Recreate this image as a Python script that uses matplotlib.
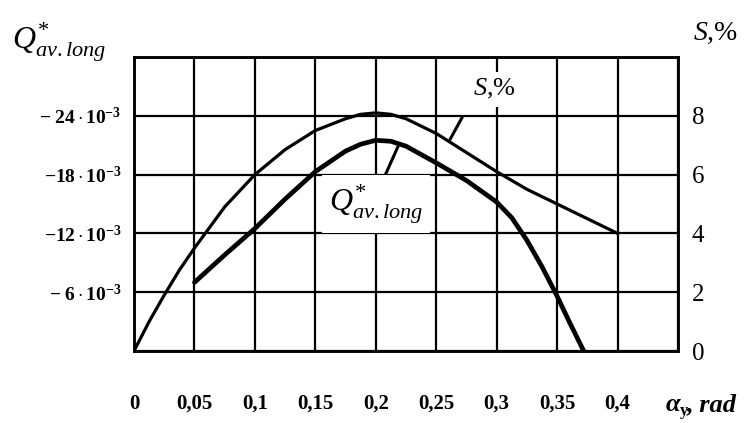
import matplotlib.pyplot as plt
import numpy as np

plt.rcParams['font.family'] = ['Liberation Serif', 'DejaVu Serif']
plt.rcParams['mathtext.fontset'] = 'custom'
plt.rcParams['mathtext.rm'] = 'Liberation Serif'
plt.rcParams['mathtext.it'] = 'Liberation Serif:italic'
plt.rcParams['mathtext.bf'] = 'Liberation Serif:bold'

# angle alpha_y, rad
a_s = [0, 0.0125, 0.025, 0.0375, 0.05, 0.075, 0.1, 0.125, 0.15, 0.175, 0.1875,
       0.2, 0.2125, 0.225, 0.25, 0.275, 0.3, 0.325, 0.35, 0.375, 0.4]
s_pct = [0, 1.0, 1.9, 2.75, 3.5, 4.9, 6.0, 6.85, 7.5, 7.9, 8.05,
         8.1, 8.05, 7.9, 7.4, 6.75, 6.1, 5.5, 5.0, 4.5, 4.0]

a_q = [0.05, 0.075, 0.1, 0.125, 0.15, 0.175, 0.1875, 0.2, 0.2125, 0.225,
       0.25, 0.275, 0.3, 0.3125, 0.325, 0.3375, 0.35, 0.36, 0.372]
q_avlong = [-7.0e-3, -9.8e-3, -12.5e-3, -15.5e-3, -18.3e-3, -20.4e-3, -21.1e-3,
            -21.5e-3, -21.4e-3, -20.9e-3, -19.2e-3, -17.4e-3, -15.2e-3,
            -13.6e-3, -11.3e-3, -8.6e-3, -5.6e-3, -3.0e-3, 0.0]

x_ticks = [0, 0.05, 0.1, 0.15, 0.2, 0.25, 0.3, 0.35, 0.4, 0.45]
x_labels = ['0', '0,05', '0,1', '0,15', '0,2', '0,25', '0,3', '0,35', '0,4', '']
q_ticks = [0, -6e-3, -12e-3, -18e-3, -24e-3, -30e-3]
q_labels = ['', r'$\mathbf{-\ 6\cdot10^{-3}}$', r'$\mathbf{-12\cdot10^{-3}}$',
            r'$\mathbf{-18\cdot10^{-3}}$', r'$\mathbf{-\ 24\cdot10^{-3}}$', '']
s_ticks = [0, 2, 4, 6, 8, 10]
s_labels = ['0', '2', '4', '6', '8', '']

Q_LABEL = r'$Q^{*}_{av.long}$'

fig = plt.figure(figsize=(7.5, 4.23), dpi=100)
ax = fig.add_axes([134/750, 72/423, 544/750, 294/423])
ax2 = ax.twinx()

ax.set_xlim(0, 0.45)
ax.set_ylim(0, -0.030)
ax2.set_ylim(0, 10)

ax.set_xticks(x_ticks)
ax.set_xticklabels(x_labels, fontsize=15, fontweight='bold')
ax.set_yticks(q_ticks)
ax.set_yticklabels(q_labels, fontsize=14)
ax2.set_yticks(s_ticks)
ax2.set_yticklabels(s_labels, fontsize=18)
ax.tick_params(axis='x', length=0, pad=31)
ax.tick_params(axis='y', length=0, pad=9)
ax2.tick_params(axis='y', length=0, pad=10)

ax.grid(True, color='black', lw=1.6)
for sp in list(ax.spines.values()) + list(ax2.spines.values()):
    sp.set_linewidth(1.8)

ax2.plot(a_s, s_pct, color='black', lw=2.3, solid_capstyle='round',
         solid_joinstyle='round', zorder=3)
ax.plot(a_q, q_avlong, color='black', lw=3.4, solid_capstyle='round',
        solid_joinstyle='round', zorder=3)

# curve labels with leader lines
lead = dict(arrowstyle='-', lw=2.2, color='black', shrinkA=0, shrinkB=0)
ax2.annotate('', xy=(0.2615, 7.2), xytext=(0.2715, 7.95), arrowprops=lead)
ax2.text(0.298, 8.9, r'$S$,%', fontsize=19, ha='center', va='center',
         bbox=dict(facecolor='white', edgecolor='none', pad=4), zorder=5)
ax.annotate('', xy=(0.2185, -20.9e-3), xytext=(0.208, -18.0e-3), arrowprops=lead)
ax.text(0.2, -15.0e-3, Q_LABEL, fontsize=23, ha='center', va='center',
        bbox=dict(facecolor='white', edgecolor='none', pad=5), zorder=5)

# axis titles
fig.text(12/750, 1 - 50/423, Q_LABEL, fontsize=23, ha='left', va='baseline')
fig.text(693/750, 1 - 40/423, r'$S$,%', fontsize=20, ha='left', va='baseline')
fig.text(666/750, 1 - 411/423, 'α', fontsize=19, fontweight='bold',
         fontstyle='italic', ha='left', va='baseline')
fig.text(680/750, 1 - 415/423, 'y', fontsize=12, fontweight='bold',
         ha='left', va='baseline')
fig.text(687/750, 1 - 411/423, ', rad', fontsize=19, fontweight='bold',
         fontstyle='italic', ha='left', va='baseline')

fig.savefig('out.png', dpi=100)
